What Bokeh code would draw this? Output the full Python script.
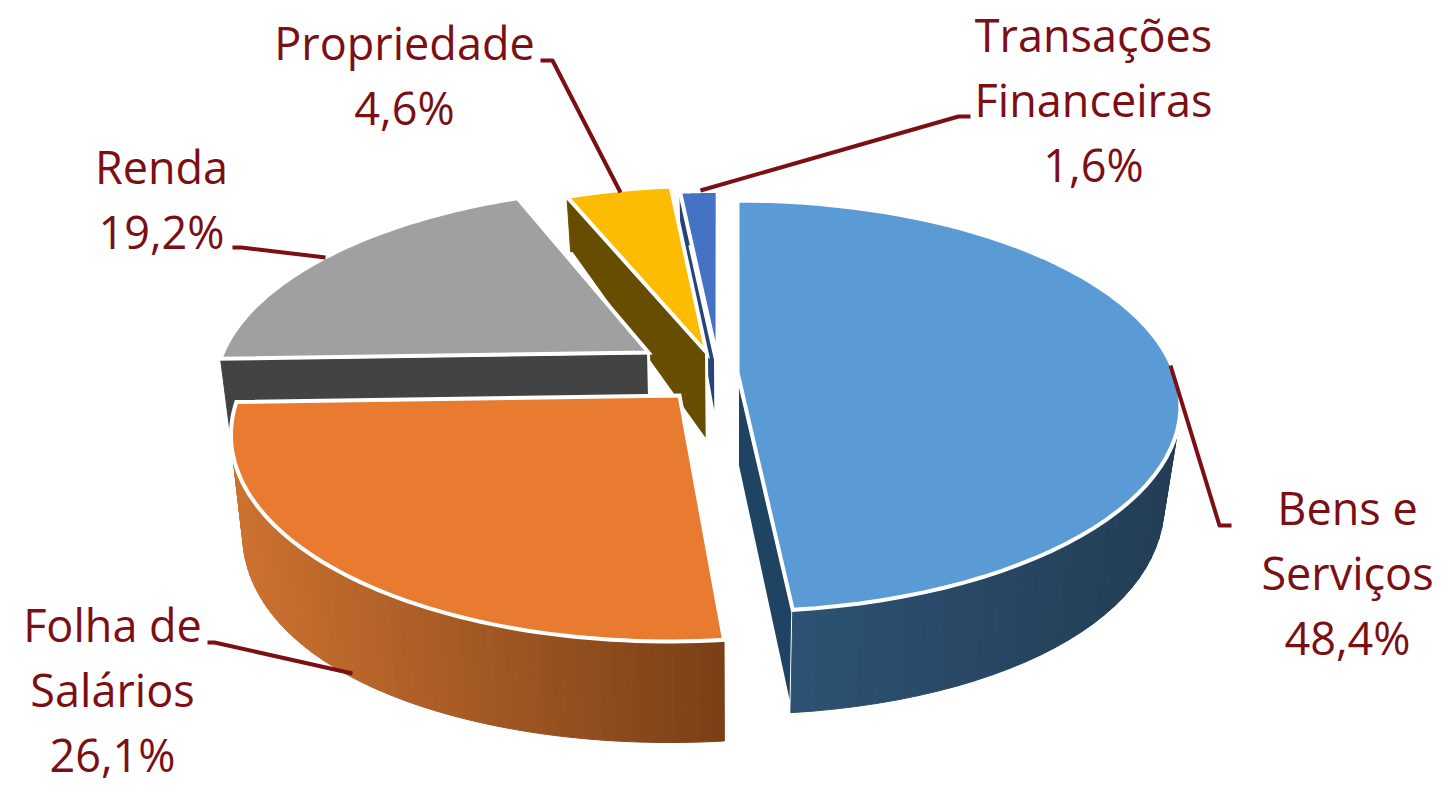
import numpy as np
from bokeh.plotting import figure
from bokeh.models import Range1d, ColumnDataSource
from bokeh.core.properties import value
from bokeh.embed import file_html
from bokeh.resources import INLINE

categories = ["Bens e Serviços", "Folha de Salários", "Renda", "Propriedade", "Transações Financeiras"]
shares = [48.4, 26.1, 19.2, 4.6, 1.6]
label_lines = [["Bens e", "Serviços", "48,4%"], ["Folha de", "Salários", "26,1%"], ["Renda", "19,2%"],
               ["Propriedade", "4,6%"], ["Transações", "Financeiras", "1,6%"]]
top_colors = ["#5B9BD5", "#E97B30", "#A0A0A0", "#FBBC02", "#4472C4"]
wall_left = ["#2E5577", "#CC7230", "#434343", "#664D00", "#26447A"]
wall_right = ["#233D55", "#7A3F17", "#434343", "#664D00", "#26447A"]
side_colors = ["#1F4463", "#7A3F17", "#434343", "#664D00", "#26447A"]

# layout: pixel position of each slice's tip, seam corrections (degrees), label anchors
tips = [(737, 372), (679, 395), (648, 352), (706, 352), (717, 359)]
radii = [1.0, 0.99, 0.99, 1.0, 1.0]
seam_nudge = [0, -0.5, -0.3, -0.2, -0.45, -0.4]
visible_side = [-1, None, 0, 0, 0]
side_stroke = [3, 3, 3, 3, 7]
label_anchor = [(1347, 507), (112, 624), (161, 166), (404, 42), (1093, 34)]
line_gap = 65
leaders = [[(1170, 365), (1219, 525), (1231, 525)],
           [(207, 642), (214, 642), (352, 673)],
           [(232, 247), (241, 247), (325, 257)],
           [(540, 60), (552, 60), (620, 192)],
           [(970, 116), (958, 116), (700, 190)]]
ORIGIN = (737, 372)
S, K, A = 437.0, 200.0, -0.163
S2, K2, A2, D0, SHIFT = 424.0, 227.0, -0.0873, 93.0, -3.0
TEXT = "#7B0F14"


def top_xy(u, v):
    d = 1 + A * v
    return ORIGIN[0] + S * u / d, ORIGIN[1] + K * v / d


def low_xy(u, v):
    x = ORIGIN[0] + S2 * u / (1 + A * v) + SHIFT * np.abs(u)
    return x, ORIGIN[1] + D0 + K2 * v / (1 + A2 * v)


def plane_offset(tip):
    rx, ry = tip[0] - ORIGIN[0], tip[1] - ORIGIN[1]
    v = ry / (K - A * ry)
    u = rx * (1 + A * v) / S
    return u, v


def mix(c1, c2, f):
    a = [int(c1[i:i + 2], 16) for i in (1, 3, 5)]
    b = [int(c2[i:i + 2], 16) for i in (1, 3, 5)]
    return "#%02x%02x%02x" % tuple(int(round(a[i] + (b[i] - a[i]) * f)) for i in range(3))


p = figure(width=1447, height=787, output_backend="svg", toolbar_location=None,
           x_range=Range1d(0, 1447), y_range=Range1d(787, 0), min_border=0)
p.axis.visible = False
p.grid.visible = False
p.outline_line_color = None
p.background_fill_color = "#FFFFFF"

cum = np.concatenate([[0], np.cumsum(shares)]) / sum(shares) * 360 + np.array(seam_nudge)

# back to front
for i in [4, 3, 2, 1, 0]:
    ou, ov = plane_offset(tips[i])
    t = np.radians(np.linspace(cum[i], cum[i + 1], 70))
    u = ou + radii[i] * np.sin(t)
    v = ov - radii[i] * np.cos(t)
    tx, ty = top_xy(u, v)
    bx, by = low_xy(u, v)
    ax, ay = top_xy(ou, ov)
    cx, cy = low_xy(ou, ov)

    # radial side wall that faces the viewer
    j = visible_side[i]
    if j is not None:
        p.patch([ax, tx[j], bx[j], cx], [ay, ty[j], by[j], cy], fill_color=side_colors[i],
                line_color="#FFFFFF", line_width=side_stroke[i], line_join="miter")

    # outer wall, shaded band by band
    xs, ys, cols = [], [], []
    lo, hi = min(tx.min(), bx.min()), max(tx.max(), bx.max())
    for k in range(len(t) - 1):
        xs.append([tx[k], tx[k + 1], bx[k + 1], bx[k]])
        ys.append([ty[k], ty[k + 1], by[k + 1], by[k]])
        f = (0.5 * (tx[k] + tx[k + 1]) - lo) / max(hi - lo, 1)
        cols.append(mix(wall_left[i], wall_right[i], f))
    p.patches(xs, ys, fill_color=cols, line_color=cols, line_width=1)

    # top face
    p.patch([ax, *tx, ax], [ay, *ty, ay], fill_color=top_colors[i], line_color="#FFFFFF",
            line_width=4, line_join="miter")

for pts in leaders:
    p.line([q[0] for q in pts], [q[1] for q in pts], line_color=TEXT, line_width=4, line_join="round")

tx_, ty_, tt_ = [], [], []
for (ax_, ay_), lines in zip(label_anchor, label_lines):
    for n, s in enumerate(lines):
        tx_.append(ax_)
        ty_.append(ay_ + n * line_gap)
        tt_.append(s)
p.text(x="x", y="y", text="t", source=ColumnDataSource(dict(x=tx_, y=ty_, t=tt_)),
       text_font=value("Open Sans"), text_font_size="45px", text_color=TEXT,
       text_align="center", text_baseline="alphabetic")

open("out.html", "w").write(file_html(p, INLINE))
